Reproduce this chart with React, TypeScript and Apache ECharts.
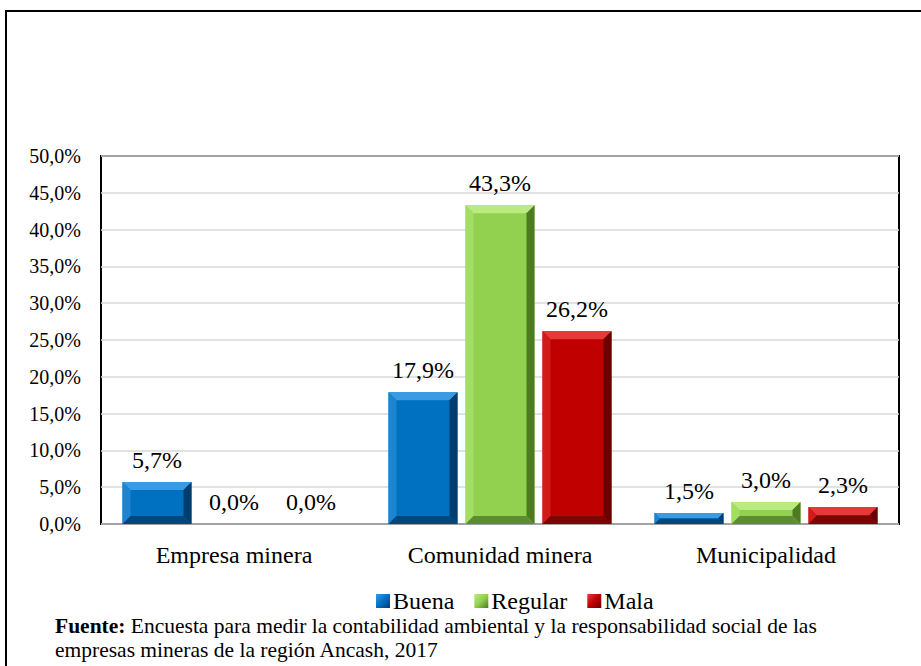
import React, { useEffect, useRef } from "react";
import * as echarts from "echarts";

const categories = ["Empresa minera", "Comunidad minera", "Municipalidad"];
const seriesNames = ["Buena", "Regular", "Mala"];
const buena = [5.7, 17.9, 1.5];
const regular = [0.0, 43.3, 3.0];
const mala = [0.0, 26.2, 2.3];
const footerLine1 = "Encuesta para medir la contabilidad ambiental y la responsabilidad social de las";
const footerLine2 = "empresas mineras de la región Ancash, 2017";

const FONT = "Liberation Serif";

const palettes = [
  { main: "#0070C0", top: "#3A9BE2", left: "#1C84D0", right: "#003E6E", bottom: "#00477D" },
  { main: "#92D050", top: "#B9EB80", left: "#A2DE62", right: "#4E7A22", bottom: "#5E8C30" },
  { main: "#C00000", top: "#E53A3A", left: "#D11A1A", right: "#6A0000", bottom: "#7E0505" },
];

const fmt = (v: number) => v.toFixed(1).replace(".", ",") + "%";

function makeRender(s: number) {
  return (params: any, api: any) => {
    const catIdx = api.value(0);
    const val = api.value(1);
    const base = api.coord([catIdx, 0]);
    const top = api.coord([catIdx, val]);
    const band = api.size([1, 0])[0];
    const barW = (69 / 266) * band;
    const gap = (8 / 266) * band;
    const groupW = 3 * barW + 2 * gap;
    const x0 = base[0] - groupW / 2 + s * (barW + gap);
    const x1 = x0 + barW;
    const y1 = base[1];
    const y0 = top[1];
    const h = y1 - y0;
    const p = palettes[s];
    const children: any[] = [];
    if (h > 0.5) {
      const b = Math.min(8, h / 2, barW / 2);
      children.push({ type: "rect", shape: { x: x0, y: y0, width: barW, height: h }, style: { fill: p.main } });
      children.push({ type: "polygon", shape: { points: [[x0, y0], [x1, y0], [x1 - b, y0 + b], [x0 + b, y0 + b]] }, style: { fill: p.top } });
      children.push({ type: "polygon", shape: { points: [[x0, y0], [x0 + b, y0 + b], [x0 + b, y1 - b], [x0, y1]] }, style: { fill: p.left } });
      children.push({ type: "polygon", shape: { points: [[x1, y0], [x1, y1], [x1 - b, y1 - b], [x1 - b, y0 + b]] }, style: { fill: p.right } });
      children.push({ type: "polygon", shape: { points: [[x0, y1], [x0 + b, y1 - b], [x1 - b, y1 - b], [x1, y1]] }, style: { fill: p.bottom } });
    }
    children.push({
      type: "text",
      style: {
        text: fmt(val),
        x: x0 + barW / 2,
        y: y0 - 22,
        textAlign: "center",
        textVerticalAlign: "middle",
        fontFamily: FONT,
        fontSize: 24,
        fill: "#000",
      },
    });
    return { type: "group", children };
  };
}

export default function App() {
  const ref = useRef<HTMLDivElement>(null);
  useEffect(() => {
    if (!ref.current) return;
    const chart = echarts.init(ref.current, null, { renderer: "svg" });
    const allData = [buena, regular, mala];
    chart.setOption({
      animation: false,
      backgroundColor: "#fff",
      textStyle: { fontFamily: FONT },
      grid: { left: 101, top: 156, right: 22, bottom: 142, show: true, borderColor: "#000", borderWidth: 2, backgroundColor: "transparent" },
      xAxis: {
        type: "category",
        data: categories,
        axisLine: { show: false },
        axisTick: { show: false },
        axisLabel: { fontFamily: FONT, fontSize: 24, color: "#000", margin: 19 },
      },
      yAxis: {
        type: "value",
        min: 0,
        max: 50,
        interval: 5,
        axisLine: { show: false },
        axisTick: { show: false },
        splitLine: { lineStyle: { color: "#D9D9D9", width: 1.5 } },
        axisLabel: { fontFamily: FONT, fontSize: 20, color: "#000", margin: 20, formatter: (v: number) => fmt(v) },
      },
      legend: {
        left: 371,
        top: 584,
        itemWidth: 14,
        itemHeight: 14,
        itemGap: 20,
        textStyle: { fontFamily: FONT, fontSize: 24, color: "#000", padding: [0, 0, 0, -2] },
        data: seriesNames.map((n, i) => ({
          name: n,
          icon: "rect",
          itemStyle: {
            color: new echarts.graphic.LinearGradient(0, 0, 1, 1, [
              { offset: 0, color: palettes[i].top },
              { offset: 0.5, color: palettes[i].main },
              { offset: 1, color: palettes[i].right },
            ]),
          },
        })),
      },
      series: seriesNames.map((n, i) => ({
        name: n,
        type: "custom",
        itemStyle: { color: palettes[i].main },
        encode: { x: 0, y: 1 },
        data: allData[i].map((v, j) => [j, v]),
        renderItem: makeRender(i),
        z: 3,
      })),
      graphic: [
        {
          type: "rect",
          z: -10,
          shape: { x: 6, y: 11, width: 1000, height: 1000 },
          style: { fill: "none", stroke: "#000", lineWidth: 2 },
        },
        {
          type: "text",
          left: 55,
          top: 615,
          style: {
            text: "{b|Fuente:} " + footerLine1,
            fontFamily: FONT,
            fontSize: 21.5,
            fill: "#000",
            rich: { b: { fontWeight: "bold", fontFamily: FONT, fontSize: 21.5 } },
          },
        },
        {
          type: "text",
          left: 55,
          top: 639,
          style: { text: footerLine2, fontFamily: FONT, fontSize: 21.5, fill: "#000" },
        },
      ],
    });
    return () => chart.dispose();
  }, []);
  return <div ref={ref} style={{ position: "fixed", left: 0, top: 0, width: 921, height: 666 }} />;
}
